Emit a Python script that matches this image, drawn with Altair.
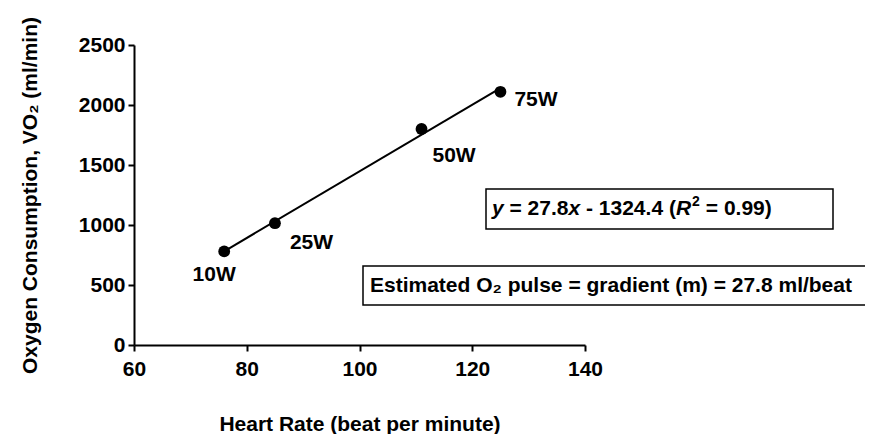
import altair as alt
import pandas as pd

# ---- data ----
heart_rate = [76, 85, 111, 125]
vo2 = [780, 1015, 1800, 2110]
workload = ["10W", "25W", "50W", "75W"]

x_ticks = [60, 80, 100, 120, 140]
y_ticks = [0, 500, 1000, 1500, 2000, 2500]

eq_segments = ["y", "= 27.8", "x", "- 1324.4 (", "R", "2", "= 0.99)"]
pulse_text = "Estimated O\u2082 pulse = gradient (m) = 27.8 ml/beat"

x_title = "Heart Rate (beat per minute)"
y_title = "Oxygen Consumption, VO\u2082 (ml/min)"

FONT = "Liberation Sans"
FS = 21

df = pd.DataFrame({"hr": heart_rate, "vo2": vo2, "label": workload})

xs = alt.Scale(domain=[60, 140], nice=False, zero=False)
ys = alt.Scale(domain=[0, 2500], nice=False)

x_enc = alt.X("hr:Q", scale=xs,
              axis=alt.Axis(values=x_ticks, title=x_title, titlePadding=34,
                            labelPadding=7, format="d"))
y_enc = alt.Y("vo2:Q", scale=ys,
              axis=alt.Axis(values=y_ticks, title=y_title, titlePadding=38,
                            labelPadding=3, format="d"))

base = alt.Chart(df)

line = base.transform_regression("hr", "vo2").mark_line(
    color="black", strokeWidth=2).encode(x=x_enc, y=y_enc)

points = base.mark_point(filled=True, color="black", opacity=1, size=140).encode(
    x="hr:Q", y="vo2:Q")

label_style = [  # (label, align, dx, dy)
    ("10W", "center", -10, 24),
    ("25W", "left", 15, 20),
    ("50W", "left", 11, 27),
    ("75W", "left", 14, 8),
]
labels = []
for lab, al, dx, dy in label_style:
    labels.append(
        base.transform_filter(alt.datum.label == lab).mark_text(
            font=FONT, fontSize=FS, fontWeight="bold", color="black",
            align=al, baseline="middle", dx=dx, dy=dy
        ).encode(x="hr:Q", y="vo2:Q", text="label:N")
    )

one = alt.Chart(pd.DataFrame({"k": [0]}))

box1 = one.mark_rect(fill="white", stroke="black", strokeWidth=1.5).encode(
    x=alt.value(352), x2=alt.value(699), y=alt.value(144), y2=alt.value(184))
box2 = one.mark_rect(fill="white", stroke="black", strokeWidth=1.5).encode(
    x=alt.value(229), x2=alt.value(734), y=alt.value(221), y2=alt.value(260))

# equation pieces: (x offset, italic?, size, dy)
seg_layout = [
    (0, True, FS, 0),
    (17.5, False, FS, 0),
    (76.5, True, FS, 0),
    (94.0, False, FS, 0),
    (183.9, True, FS, 0),
    (200.0, False, 14, -7),
    (213.8, False, FS, 0),
]
eq_marks = []
for seg, (off, ital, size, dy) in zip(eq_segments, seg_layout):
    eq_marks.append(
        one.mark_text(font=FONT, fontSize=size, fontWeight="bold",
                      fontStyle="italic" if ital else "normal",
                      color="black", align="left", baseline="middle", dy=dy).encode(
            x=alt.value(358 + off), y=alt.value(164), text=alt.value(seg))
    )

pulse = one.mark_text(font=FONT, fontSize=FS, fontWeight="bold", color="black",
                      align="left", baseline="middle").encode(
    x=alt.value(236), y=alt.value(241), text=alt.value(pulse_text))

chart = alt.layer(line, points, *labels, box1, box2, *eq_marks, pulse).properties(
    width=451, height=300,
    autosize=alt.AutoSizeParams(type="none"),
    padding={"left": 126, "top": 37, "right": 280, "bottom": 89},
).configure_view(stroke=None).configure_axis(
    domainColor="black", domainWidth=2, tickColor="black", tickWidth=2,
    tickSize=6, grid=False, labelFont=FONT, labelFontSize=FS,
    labelFontWeight="bold", labelColor="black", titleFont=FONT,
    titleFontSize=FS, titleFontWeight="bold", titleColor="black",
    labelFlush=False, labelOverlap=False,
)

chart.save("out.html", embed_options={"renderer": "svg", "actions": False})
